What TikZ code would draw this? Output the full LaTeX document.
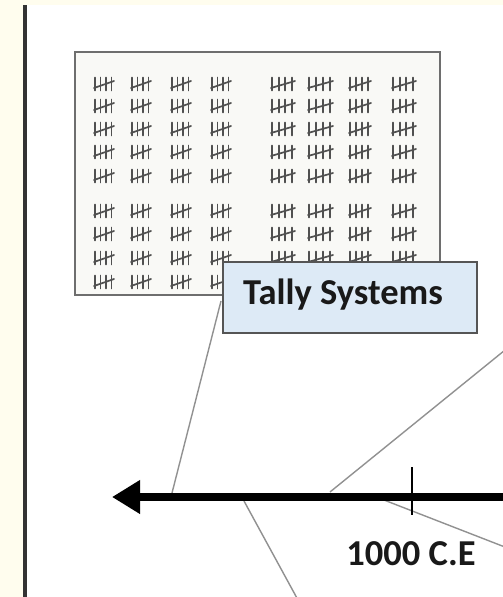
\documentclass[tikz,border=0pt]{standalone}
\usepackage{fontspec}
\setmainfont{Carlito}
\usetikzlibrary{arrows.meta}
\definecolor{cream}{RGB}{255,253,238}
\definecolor{framegray}{RGB}{85,85,85}
\definecolor{imgfill}{RGB}{249,249,246}
\definecolor{tallyblue}{RGB}{221,234,246}
\definecolor{tallyink}{RGB}{80,80,80}
\definecolor{linkgray}{RGB}{145,145,145}
\tikzset{
  tallymark/.style={draw=tallyink, line width=1.7pt, line cap=round},
  linkline/.style={draw=linkgray, line width=1.4pt},
  labelbox/.style={draw=framegray, line width=2.2pt, fill=tallyblue, minimum width=254pt, minimum height=71pt, inner sep=0pt},
  bigtext/.style={font=\fontsize{36.5}{42}\selectfont\bfseries, text=black!90, inner sep=0pt},
}
\begin{document}
\begin{tikzpicture}[x=1pt, y=-1pt]
\useasboundingbox (0,0) rectangle (503,597);
% page background
\fill[cream] (0,0) rectangle (503,597);
\fill[white] (26,5) rectangle (503,597);
\draw[black!80, line width=3.5pt] (25,5) -- (25,597);
% picture of tally marks
\node[draw=framegray!85, line width=2.8pt, fill=imgfill, minimum width=365pt, minimum height=243pt, inner sep=0pt] (img) at (257.5,173.5) {};
\foreach \ry in {84,106,129,152,176,211,234,258,282}{
  \foreach \gx/\gw in {95/18,132/18,172/18,212/18,272/22,309/23,350/20,393/22}{
    \foreach \k in {0,1,2,3}{
      \draw[tallymark] ({\gx+\k*\gw/3.3},\ry-6.5) -- ({\gx+\k*\gw/3.3},\ry+6.5);
    }
    \draw[tallymark] (\gx-1,\ry+4) -- ({\gx+\gw+1},\ry-3);
  }
}
% connectors (drawn below the label box)
\coordinate (t1) at (172,493);
\coordinate (t2) at (330,492);
\coordinate (t3) at (244,501);
\coordinate (t4) at (384,500);
\coordinate (e2) at (510,346);
\coordinate (e3) at (298,600);
\coordinate (e4) at (510,549);
\coordinate (s1) at (221,301);
\draw[linkline] (s1) -- (t1);
\draw[linkline] (t2) -- (e2);
\draw[linkline] (t3) -- (e3);
\draw[linkline] (t4) -- (e4);
% label box
\node[labelbox] (tallybox) at (350,297.5) {};
\node[bigtext, anchor=base west] (tallytext) at (243,304) {Tally Systems};
% timeline
\coordinate (tlstart) at (515,497);
\coordinate (tlend) at (112,497);
\draw[line width=8pt, -{Triangle[length=28pt,width=32pt]}] (tlstart) -- (tlend);
\coordinate (tickTop) at (412,467);
\coordinate (tickBot) at (412,515);
\draw[line width=2.4pt] (tickTop) -- (tickBot);
\node[bigtext, anchor=base] (year) at (411,565) {1000 C.E};
\end{tikzpicture}
\end{document}
